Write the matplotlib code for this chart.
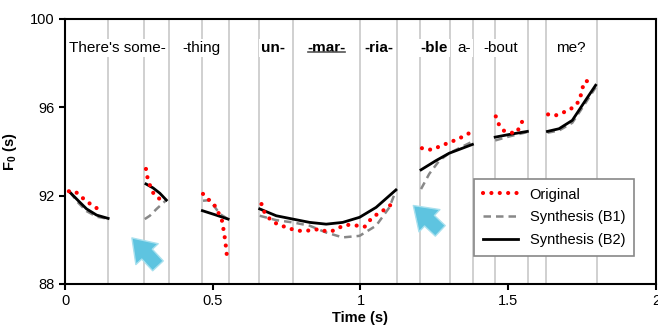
import matplotlib
matplotlib.use("Agg")
from matplotlib import pyplot as plt
from matplotlib.patches import FancyArrowPatch

plt.rcParams['font.family'] = ['Liberation Sans', 'DejaVu Sans']
plt.rcParams['mathtext.fontset'] = 'custom'
plt.rcParams['mathtext.bf'] = 'Liberation Sans:bold'
plt.rcParams['mathtext.rm'] = 'Liberation Sans'

# syllable boundaries (s)
boundaries = [0.145, 0.267, 0.351, 0.463, 0.554, 0.655, 0.770, 1.0, 1.125,
              1.203, 1.304, 1.382, 1.456, 1.568, 1.628, 1.801]

# word / syllable labels
words = ["There's some-", "-thing", "un-", "-mar-", "-ria-", "-ble", "a-", "-bout", "me?"]
word_t = [0.177, 0.463, 0.703, 0.885, 1.064, 1.25, 1.351, 1.476, 1.713]
word_bold = [False, False, True, True, True, True, False, False, False]

# Original F0 (dotted), one list per voiced segment
orig_t = [
    [0.013, 0.034, 0.051, 0.071, 0.090, 0.109, 0.127],
    [0.274, 0.278, 0.285, 0.293, 0.304, 0.321],
    [0.467, 0.486, 0.504, 0.515, 0.527, 0.533, 0.537, 0.541, 0.544, 0.547, 0.548],
    [0.665, 0.670, 0.698, 0.724, 0.766, 0.792, 0.814, 0.839, 0.861, 0.884, 0.906,
     0.929, 0.952, 0.968, 0.991, 1.014, 1.030, 1.047, 1.070, 1.086, 1.107],
    [1.208, 1.230, 1.248, 1.267, 1.290, 1.310, 1.330, 1.349, 1.368],
    [1.458, 1.467, 1.484, 1.507, 1.529, 1.545, 1.557],
    [1.635, 1.658, 1.681, 1.704, 1.725, 1.742, 1.751, 1.759, 1.783],
]
orig_f = [
    [92.20, 92.20, 91.99, 91.77, 91.58, 91.42, 91.62],
    [93.21, 92.88, 92.56, 92.26, 92.00, 91.85],
    [92.08, 91.82, 91.62, 91.32, 91.05, 90.79, 90.41, 90.08, 89.76, 89.42, 89.12],
    [91.62, 91.35, 90.86, 90.68, 90.49, 90.41, 90.41, 90.44, 90.49, 90.38, 90.41,
     90.56, 90.68, 90.67, 90.64, 90.59, 90.86, 91.09, 91.24, 91.44, 91.62],
    [94.15, 94.08, 94.10, 94.23, 94.35, 94.45, 94.58, 94.68, 94.83],
    [95.59, 95.26, 94.95, 94.85, 94.85, 95.30, 95.56],
    [95.68, 95.62, 95.74, 95.86, 96.05, 96.32, 96.85, 97.18, 97.20],
]

# Synthesis (B1), dashed
b1_t = [
    [0.017, 0.045, 0.073, 0.107, 0.146],
    [0.270, 0.287, 0.310, 0.343],
    [0.467, 0.490, 0.524, 0.552],
    [0.659, 0.715, 0.771, 0.828, 0.884, 0.940, 0.997, 1.053, 1.098, 1.120],
    [1.205, 1.233, 1.267, 1.300, 1.379],
    [1.456, 1.503, 1.565],
    [1.633, 1.672, 1.717, 1.762, 1.796],
]
b1_f = [
    [92.15, 91.68, 91.30, 91.05, 90.95],
    [90.94, 91.09, 91.40, 91.80],
    [91.77, 91.80, 91.17, 90.94],
    [91.09, 90.89, 90.79, 90.64, 90.33, 90.11, 90.18, 90.64, 91.47, 92.23],
    [92.30, 92.99, 93.59, 93.92, 94.45],
    [94.50, 94.68, 94.88],
    [94.85, 94.95, 95.30, 96.20, 96.90],
]

# Synthesis (B2), solid
b2_t = [
    [0.017, 0.045, 0.073, 0.107, 0.146],
    [0.274, 0.298, 0.321, 0.343],
    [0.465, 0.507, 0.552],
    [0.659, 0.715, 0.771, 0.828, 0.884, 0.940, 0.997, 1.053, 1.120],
    [1.205, 1.256, 1.300, 1.379],
    [1.456, 1.503, 1.565],
    [1.633, 1.672, 1.717, 1.762, 1.796],
]
b2_f = [
    [92.15, 91.77, 91.40, 91.12, 90.97],
    [92.53, 92.35, 92.11, 91.80],
    [91.32, 91.14, 90.94],
    [91.40, 91.09, 90.94, 90.79, 90.71, 90.79, 91.02, 91.47, 92.26],
    [93.17, 93.59, 93.92, 94.32],
    [94.65, 94.77, 94.91],
    [94.91, 95.03, 95.41, 96.32, 97.00],
]

# arrows (tail -> tip)
arrows = [((0.321, 88.73), (0.220, 90.18)), ((1.277, 90.32), (1.172, 91.64))]

fig = plt.figure(figsize=(6.58, 3.31), dpi=100)
ax = fig.add_axes([0.0988, 0.142, 0.898, 0.8006])

for b in boundaries:
    ax.axvline(b, color='#c8c8c8', lw=1.2, zorder=1)

for i in range(len(orig_t)):
    ax.plot(b1_t[i], b1_f[i], color='#888888', lw=1.8, dashes=(3, 2), zorder=3,
            label='Synthesis (B1)' if i == 0 else None)
    ax.plot(b2_t[i], b2_f[i], color='black', lw=2.0, zorder=4,
            label='Synthesis (B2)' if i == 0 else None)
    ax.plot(orig_t[i], orig_f[i], color='#ff0000', lw=3, dashes=(0.01, 2.0),
            dash_capstyle='round', zorder=5, label='Original' if i == 0 else None)

for w, t, bold in zip(words, word_t, word_bold):
    txt = ax.text(t, 98.68, w, ha='center', va='center', fontsize=11,
                  fontweight='bold' if bold else 'normal', zorder=6,
                  bbox=dict(facecolor='white', edgecolor='none', pad=1.5))
    if w == "-mar-":
        fig.canvas.draw()
        bb = txt.get_window_extent().transformed(ax.transData.inverted())
        ax.plot([bb.x0, bb.x1], [bb.y0 + 0.05, bb.y0 + 0.05], color='#555555',
                lw=1.2, zorder=7)

for tail, tip in arrows:
    ax.add_patch(FancyArrowPatch(tail, tip,
                                 arrowstyle='simple,head_width=1.1,head_length=0.8,tail_width=0.52',
                                 mutation_scale=20, facecolor='#5ec4e0',
                                 edgecolor='#a8e0ee', lw=1, zorder=6))

ax.set_xlim(0, 2)
ax.set_ylim(88, 100)
ax.set_xticks([0, 0.5, 1, 1.5, 2])
ax.set_xticklabels(['0', '0.5', '1', '1.5', '2'])
ax.set_yticks([88, 92, 96, 100])
ax.tick_params(labelsize=10.5, length=4, width=1.5, direction='out')
for s in ax.spines.values():
    s.set_linewidth(1.5)

ax.set_xlabel('Time (s)', fontsize=10.5, fontweight='bold', labelpad=2)
ax.set_ylabel(r'$\mathbf{F_0}$ (s)', fontsize=10.5, fontweight='bold', labelpad=8)

handles, labels = ax.get_legend_handles_labels()
order = [labels.index('Original'), labels.index('Synthesis (B1)'), labels.index('Synthesis (B2)')]
leg = ax.legend([handles[k] for k in order], [labels[k] for k in order],
                loc='lower right', bbox_to_anchor=(0.975, 0.079), fontsize=10.5,
                fancybox=False, edgecolor='#888888', framealpha=1, handlelength=2.4,
                borderpad=0.6, labelspacing=0.6)
leg.get_frame().set_linewidth(1.2)

fig.savefig('out.png', dpi=100)
